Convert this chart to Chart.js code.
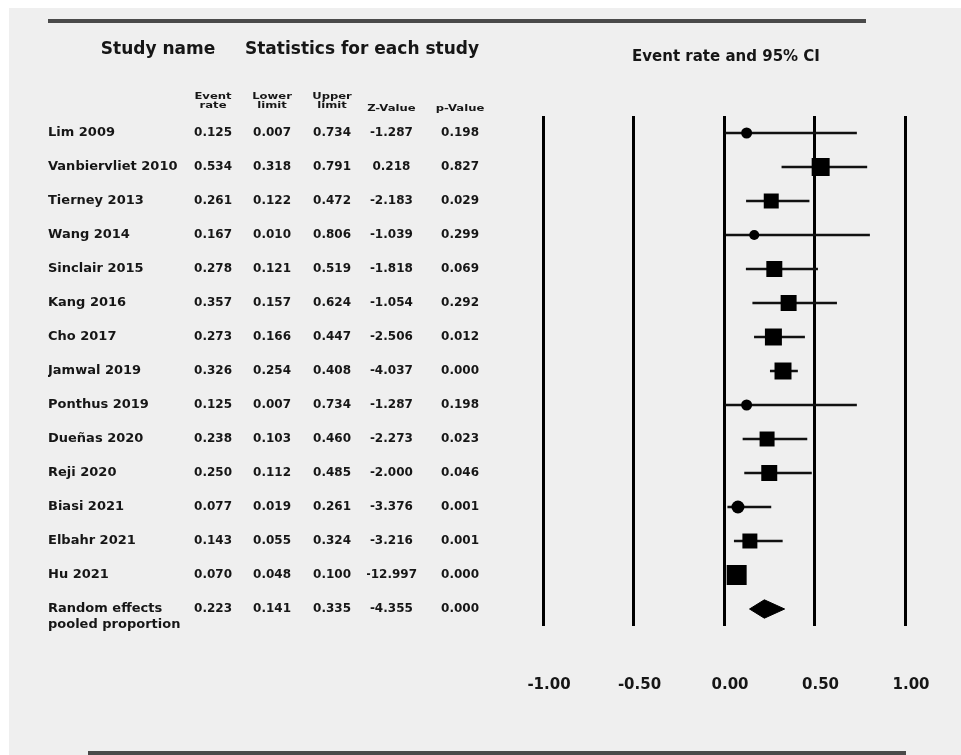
<!DOCTYPE html>
<html>
<head>
<meta charset="utf-8">
<script src="https://cdn.jsdelivr.net/npm/chart.js@4.4.0/dist/chart.umd.min.js"></script>
<style>
  html, body { margin: 0; padding: 0; background: #efefef; }
  #wrap { position: relative; width: 961px; height: 755px; }
</style>
</head>
<body>
<div id="wrap"><canvas id="c" width="961" height="755"></canvas></div>
<script>
// ---------------- data ----------------
const studies = ['Lim 2009', 'Vanbiervliet 2010', 'Tierney 2013', 'Wang 2014', 'Sinclair 2015',
  'Kang 2016', 'Cho 2017', 'Jamwal 2019', 'Ponthus 2019', 'Dueñas 2020', 'Reji 2020',
  'Biasi 2021', 'Elbahr 2021', 'Hu 2021'];
const eventRate  = [0.125, 0.534, 0.261, 0.167, 0.278, 0.357, 0.273, 0.326, 0.125, 0.238, 0.250, 0.077, 0.143, 0.070];
const lowerLimit = [0.007, 0.318, 0.122, 0.010, 0.121, 0.157, 0.166, 0.254, 0.007, 0.103, 0.112, 0.019, 0.055, 0.048];
const upperLimit = [0.734, 0.791, 0.472, 0.806, 0.519, 0.624, 0.447, 0.408, 0.734, 0.460, 0.485, 0.261, 0.324, 0.100];
const zValue     = [-1.287, 0.218, -2.183, -1.039, -1.818, -1.054, -2.506, -4.037, -1.287, -2.273, -2.000, -3.376, -3.216, -12.997];
const pValue     = [0.198, 0.827, 0.029, 0.299, 0.069, 0.292, 0.012, 0.000, 0.198, 0.023, 0.046, 0.001, 0.001, 0.000];
const weights    = [3.72, 9.95, 6.91, 3.07, 7.86, 7.86, 8.88, 8.88, 3.72, 6.91, 7.86, 5.19, 6.91, 12.29]; // relative weight (%)
const pooledLabel = ['Random effects', 'pooled proportion'];
const pooledStats = [0.223, 0.141, 0.335, -4.355, 0.000]; // event rate, lower, upper, Z, p
const xTicks = [-1.00, -0.50, 0.00, 0.50, 1.00];
const columnHeaders = [['Event', 'rate'], ['Lower', 'limit'], ['Upper', 'limit'], ['Z-Value'], ['p-Value']];
const titles = ['Study name', 'Statistics for each study', 'Event rate and 95% CI'];

// ---------------- derived ----------------
const N = studies.length + 1;
const P = studies.length; // pooled row index
const fmt = v => v.toFixed(3);
const nameLabels = studies.concat([[''].concat(pooledLabel)]);
const colLabels = [
  eventRate.concat(pooledStats[0]).map(fmt),
  lowerLimit.concat(pooledStats[1]).map(fmt),
  upperLimit.concat(pooledStats[2]).map(fmt),
  zValue.concat(pooledStats[3]).map(fmt),
  pValue.concat(pooledStats[4]).map(fmt)
];

const ciData = [];
for (let i = 0; i < studies.length; i++) {
  ciData.push({x: lowerLimit[i], y: i}, {x: upperLimit[i], y: i}, {x: null, y: null});
}
const SIDE_K = 5.7;
const sides = weights.map(w => Math.sqrt(w) * SIDE_K);
const markerStyle = sides.map(s => s <= 14 ? 'circle' : 'rect');
const markerRadius = sides.map((s, i) => markerStyle[i] === 'circle' ? s / 2 : s / Math.SQRT2);
const markerData = eventRate.map((v, i) => ({x: v, y: i}));
const DH = 0.27;
const diamondData = [
  {x: pooledStats[1], y: P}, {x: pooledStats[0], y: P - DH},
  {x: pooledStats[2], y: P}, {x: pooledStats[0], y: P + DH},
  {x: pooledStats[1], y: P}
];

// ---------------- axes ----------------
const FONT = 'DejaVu Sans';
const TXT = '#161616';
const colGeom = [ // [width, padding, weight]
  [59, 21, 50], [60, 22, 40], [54, 16, 30], [74, 24, 20], [102, 64, 10]
];
function colAxis(labels, g) {
  return {
    type: 'category', axis: 'y', position: 'left', labels: labels, offset: true, weight: g[2],
    grid: {display: false, drawTicks: false}, border: {display: false},
    ticks: {font: {family: FONT, size: 12, weight: 'bold'}, color: TXT, crossAlign: 'center',
            padding: g[1], autoSkip: false, maxRotation: 0, minRotation: 0},
    afterFit: s => { s.width = g[0]; }
  };
}
const scales = {
  yName: {
    type: 'category', axis: 'y', position: 'left', labels: nameLabels, offset: true, weight: 60,
    grid: {display: false, drawTicks: false}, border: {display: false},
    ticks: {font: {family: FONT, size: 13, weight: 'bold'}, color: TXT, crossAlign: 'far',
            padding: 0, autoSkip: false, maxRotation: 0, minRotation: 0},
    afterFit: s => { s.width = 146; }
  },
  yEr: colAxis(colLabels[0], colGeom[0]),
  yLo: colAxis(colLabels[1], colGeom[1]),
  yUp: colAxis(colLabels[2], colGeom[2]),
  yZ:  colAxis(colLabels[3], colGeom[3]),
  yP:  colAxis(colLabels[4], colGeom[4]),
  yv: {type: 'linear', axis: 'y', display: false, reverse: true, min: -0.5, max: N - 0.5, weight: 0},
  x: {
    type: 'linear', position: 'bottom', min: -1, max: 1,
    afterBuildTicks: s => { s.ticks = xTicks.map(v => ({value: v})); },
    grid: {color: '#000', lineWidth: 3, drawTicks: true, tickLength: 48, tickColor: 'rgba(0,0,0,0)'},
    border: {display: false},
    ticks: {font: {family: FONT, size: 15, weight: 'bold'}, color: TXT, padding: 2, labelOffset: 6,
            callback: v => v.toFixed(2), maxRotation: 0, minRotation: 0}
  }
};

// ---------------- decoration plugin ----------------
const decor = {
  id: 'decor',
  beforeDraw(chart) {
    const ctx = chart.ctx;
    ctx.save();
    ctx.fillStyle = '#efefef';
    ctx.fillRect(0, 0, chart.width, chart.height);
    ctx.fillStyle = '#ffffff';
    ctx.fillRect(0, 0, chart.width, 8);
    ctx.fillRect(0, 0, 9, chart.height);
    // rules
    ctx.strokeStyle = '#4a4a4a';
    ctx.lineWidth = 4;
    ctx.beginPath(); ctx.moveTo(48, 21); ctx.lineTo(866, 21); ctx.stroke();
    ctx.beginPath(); ctx.moveTo(88, 753); ctx.lineTo(906, 753); ctx.stroke();
    // titles
    ctx.fillStyle = TXT;
    ctx.textBaseline = 'middle';
    ctx.textAlign = 'center';
    ctx.font = 'bold 17px "' + FONT + '"';
    ctx.fillText(titles[0], 158, 50);
    ctx.fillText(titles[1], 362, 50);
    ctx.font = 'bold 15px "' + FONT + '"';
    const ca = chart.chartArea;
    ctx.fillText(titles[2], (ca.left + ca.right) / 2 + 2, 57);
    // column headers
    const ids = ['yEr', 'yLo', 'yUp', 'yZ', 'yP'];
    ids.forEach((id, k) => {
      const s = chart.scales[id];
      ctx.font = 'bold 12px "' + FONT + '"';
      let widest = 0;
      colLabels[k].forEach(t => { widest = Math.max(widest, ctx.measureText(t).width); });
      const cx = s.right - s.options.ticks.padding - widest / 2;
      const lines = columnHeaders[k];
      ctx.font = 'bold 8px "' + FONT + '"';
      lines.forEach((ln, j) => {
        const y = lines.length === 1 ? 109 : 96.5 + j * 9.5;
        ctx.save();
        ctx.translate(cx, y);
        ctx.scale(1.45, 1);
        ctx.fillText(ln, 0, 0);
        ctx.restore();
      });
    });
    ctx.restore();
  }
};

new Chart(document.getElementById('c'), {
  type: 'line',
  data: {
    datasets: [
      {
        label: 'Event rate', data: markerData, xAxisID: 'x', yAxisID: 'yv', order: 0,
        showLine: false, pointStyle: markerStyle, pointRadius: markerRadius,
        backgroundColor: '#000', borderColor: '#000', borderWidth: 0
      },
      {
        label: 'Pooled', data: diamondData, xAxisID: 'x', yAxisID: 'yv', order: 0,
        showLine: true, fill: 'shape', tension: 0, pointRadius: 0,
        backgroundColor: '#000', borderColor: '#000', borderWidth: 1
      },
      {
        label: '95% CI', data: ciData, xAxisID: 'x', yAxisID: 'yv', order: 1,
        showLine: true, spanGaps: false, tension: 0, pointRadius: 0,
        borderColor: '#111', borderWidth: 2.5, fill: false
      }
    ]
  },
  options: {
    responsive: false,
    animation: false,
    events: [],
    layout: {padding: {left: 48, right: 56, top: 116, bottom: 59}},
    plugins: {legend: {display: false}, tooltip: {enabled: false}},
    scales: scales
  },
  plugins: [decor]
});
</script>
</body>
</html>
